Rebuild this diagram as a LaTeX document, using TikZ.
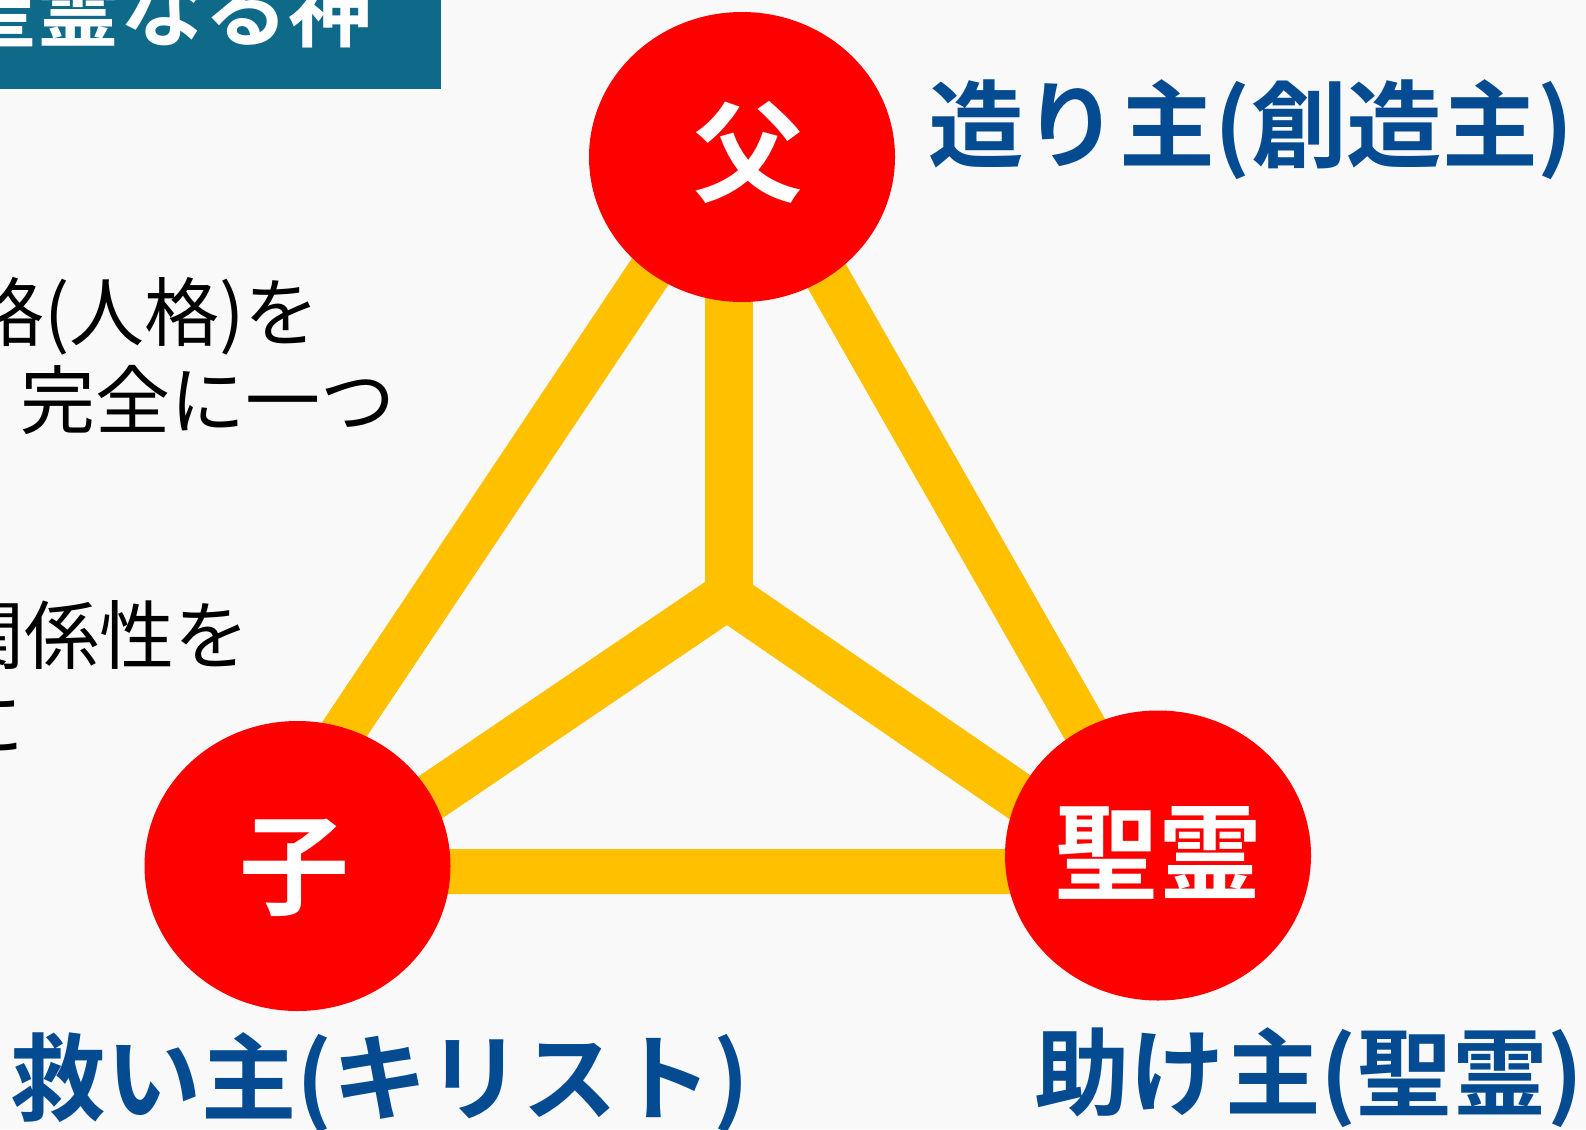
\documentclass[tikz,border=0pt]{standalone}
\usepackage{fontspec}
\newfontfamily\jp{Noto Sans CJK JP}
\newfontfamily\jpb{Noto Sans CJK JP Bold}
\usetikzlibrary{shapes.geometric}
\definecolor{bgc}{HTML}{F9F9F9}
\definecolor{tric}{HTML}{FFC000}
\definecolor{redc}{HTML}{FF0000}
\definecolor{titlec}{HTML}{0F6A8A}
\definecolor{lblue}{HTML}{054B91}
\newcommand{\lblbox}[2]{\resizebox{#1pt}{\height}{\jpb\fontsize{95}{95}\selectfont #2}}
\begin{document}
\begin{tikzpicture}[x=1pt,y=-1pt,
  circ/.style={ellipse, fill=redc, minimum width=306pt, minimum height=290pt, inner sep=0pt},
  ctext/.style={inner sep=0pt, text=white, font=\jpb\fontsize{110}{110}\selectfont},
  tripath/.style={draw=tric, line width=45pt, line join=round},
  ypath/.style={draw=tric, line width=48pt, line join=miter, line cap=butt},
  lbl/.style={inner sep=0pt, text=lblue, anchor=center},
  body/.style={inner sep=0pt, text=black, font=\jp\fontsize{75}{75}\selectfont, anchor=base west},
  titlebox/.style={fill=titlec, minimum width=441pt, minimum height=89pt, inner sep=0pt, anchor=north west},
  titletext/.style={inner sep=0pt, text=white, font=\jpb\fontsize{84}{84}\selectfont, anchor=base east}
]
\useasboundingbox (0,0) rectangle (1586,1129);
\fill[bgc] (0,0) rectangle (1586,1129);
\begin{scope}
\clip (0,0) rectangle (1586,1129);

% title
\node[titlebox] (tbox) at (0,0) {};
\node[titletext] (ttext) at (373,41) {聖霊なる神};

% body text (left, partly cut off)
\node[body, anchor=base east] (b1) at (320,340) {格(人格)を};
\node[body] (b2) at (20,428) {完全に一つ};
\node[body] (b3) at (-51,663) {関係性を};
\node[body] (b4) at (-51,751) {に};

% triangle corner coordinates and Y junction
\coordinate (tA) at (744,131);
\coordinate (tL) at (249.5,871.5);
\coordinate (tR) at (1166,871.5);
\coordinate (yJ) at (727,596);
\coordinate (yT) at (729,250);
\coordinate (yL) at (428,799);
\coordinate (yR) at (1040,811);

\draw[tripath] (tA) -- (tL) -- (tR) -- cycle;
\draw[ypath] (yL) -- (yJ) -- (yR);
\draw[ypath] (yT) -- (729,596);

% circles
\node[circ] (fa) at (742,157) {};
\node[circ] (so) at (297.5,866) {};
\node[circ] (sp) at (1158,855.5) {};
\node[ctext] (faT) at (748,152) {父};
\node[ctext] (soT) at (294,868) {子};
\node[ctext, font=\jpb\fontsize{104}{104}\selectfont] (spT) at (1158,853) {聖霊};

% blue labels
\node[lbl] (la) at (1251,130) {\lblbox{646}{造り主(創造主)}};
\node[lbl] (lb) at (380,1083) {\lblbox{738}{救い主(キリスト)}};
\node[lbl] (lc) at (1309,1078) {\lblbox{550}{助け主(聖霊)}};
\end{scope}
\end{tikzpicture}
\end{document}
